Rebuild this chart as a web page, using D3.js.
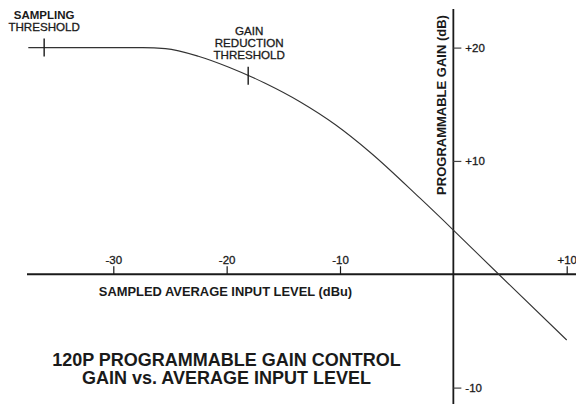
<!DOCTYPE html>
<html><head><meta charset="utf-8">
<script src="https://cdn.jsdelivr.net/npm/d3@7"></script>
<style>
html,body{margin:0;padding:0;background:#fff;}
svg{display:block;font-family:"Liberation Sans",Arial,Helvetica,sans-serif;}
</style></head>
<body>
<svg id="c" width="576" height="404"></svg>
<script>
// ---- data ----
const inputLevel = [-37.5, -27.4, -25.4, -22.5, -19.8, -16.6, -13.5, -10.4, -7.35, -2.94, 0, 4, 10];
const gainDb     = [20, 20, 19.91, 19.24, 18.27, 16.85, 15.2, 13.19, 10.77, 6.71, 3.9, 0, -5.8];
const xTickValues = [-30, -20, -10, 10];
const yTickValues = [20, 10, -10];
const thresholdNames = ["SAMPLING THRESHOLD", "GAIN REDUCTION THRESHOLD"];
const thresholdInputs = [-36.1, -18.1];
const titleLines = ["120P PROGRAMMABLE GAIN CONTROL", "GAIN vs. AVERAGE INPUT LEVEL"];
const xTitle = "SAMPLED AVERAGE INPUT LEVEL (dBu)";
const yTitle = "PROGRAMMABLE GAIN (dB)";

const W = 576, H = 404;
const svg = d3.select("#c");
const x = d3.scaleLinear().domain([-30, 10]).range([113.3, 566.7]);
const y = d3.scaleLinear().domain([-10, 20]).range([387.6, 47.6]);
const ink = "#1a1a1a";
const fmt = d => d > 0 ? "+" + d : String(d);
const thicken = sel => sel.attr("stroke", ink).attr("stroke-width", 0.3);

// axis lines
svg.append("line").attr("x1", 27).attr("x2", W).attr("y1", y(0)).attr("y2", y(0))
  .attr("stroke", ink).attr("stroke-width", 1.8);
svg.append("line").attr("x1", x(0)).attr("x2", x(0)).attr("y1", 9).attr("y2", H)
  .attr("stroke", ink).attr("stroke-width", 1.8);

// x axis ticks
const xa = svg.append("g").attr("transform", `translate(0,${y(0)})`)
  .call(d3.axisTop(x).tickValues(xTickValues).tickSize(8).tickSizeOuter(0).tickPadding(2).tickFormat(fmt));
xa.select(".domain").remove();
xa.selectAll(".tick line").attr("stroke", ink).attr("stroke-width", 1.2);
xa.selectAll(".tick text").attr("fill", ink).attr("font-size", 11.5).attr("font-family", null).call(thicken);

// y axis ticks
const ya = svg.append("g").attr("transform", `translate(${x(0)},0)`)
  .call(d3.axisRight(y).tickValues(yTickValues).tickSize(8).tickSizeOuter(0).tickPadding(4).tickFormat(fmt));
ya.select(".domain").remove();
ya.selectAll(".tick line").attr("stroke", "#444").attr("stroke-width", 1.2);
ya.selectAll(".tick text").attr("fill", ink).attr("font-size", 11.5).attr("font-family", null).call(thicken);

// curve
const pts = inputLevel.map((v, i) => [v, gainDb[i]]);
const line = d3.line().x(d => x(d[0])).y(d => y(d[1])).curve(d3.curveMonotoneX);
svg.append("path").datum(pts).attr("d", line).attr("fill", "none")
  .attr("stroke", "#333").attr("stroke-width", 1.1);

// threshold markers
const interp = v => {
  for (let i = 0; i < inputLevel.length - 1; i++) {
    if (v >= inputLevel[i] && v <= inputLevel[i + 1]) {
      const t = (v - inputLevel[i]) / (inputLevel[i + 1] - inputLevel[i]);
      return gainDb[i] + t * (gainDb[i + 1] - gainDb[i]);
    }
  }
  return gainDb[0];
};
thresholdInputs.forEach((v, i) => {
  const cx = x(v), cy = y(interp(v));
  svg.append("line").attr("x1", cx).attr("x2", cx).attr("y1", cy - 9).attr("y2", cy + 9)
    .attr("stroke", ink).attr("stroke-width", 1.4);
});
// sampling label
const s0 = x(thresholdInputs[0]);
const sw = thresholdNames[0].split(" ");
svg.append("text").attr("x", s0).attr("y", 18.5).attr("text-anchor", "middle")
  .attr("font-size", 11.5).attr("font-weight", "bold").attr("fill", ink).text(sw[0]);
svg.append("text").attr("x", s0).attr("y", 31).attr("text-anchor", "middle")
  .attr("font-size", 11.6).attr("fill", ink).call(thicken).text(sw[1]);
// gain reduction label
const g0 = x(thresholdInputs[1]);
thresholdNames[1].split(" ").forEach((w, i) => {
  svg.append("text").attr("x", g0 + 1).attr("y", 34.5 + i * 12.4).attr("text-anchor", "middle")
    .attr("font-size", 11.6).attr("fill", ink).call(thicken).text(w);
});

// axis titles
svg.append("text").attr("x", 225.5).attr("y", 295.5).attr("text-anchor", "middle")
  .attr("font-size", 12.9).attr("font-weight", "bold").attr("fill", ink).text(xTitle);
svg.append("text").attr("transform", `translate(446,105) rotate(-90)`).attr("text-anchor", "middle")
  .attr("font-size", 13).attr("font-weight", "bold").attr("fill", ink).text(yTitle);

// chart title
titleLines.forEach((t, i) => {
  svg.append("text").attr("x", 226.5).attr("y", 366 + i * 17.5).attr("text-anchor", "middle")
    .attr("font-size", 18).attr("font-weight", "bold").attr("fill", ink).text(t);
});
</script>
</body></html>
